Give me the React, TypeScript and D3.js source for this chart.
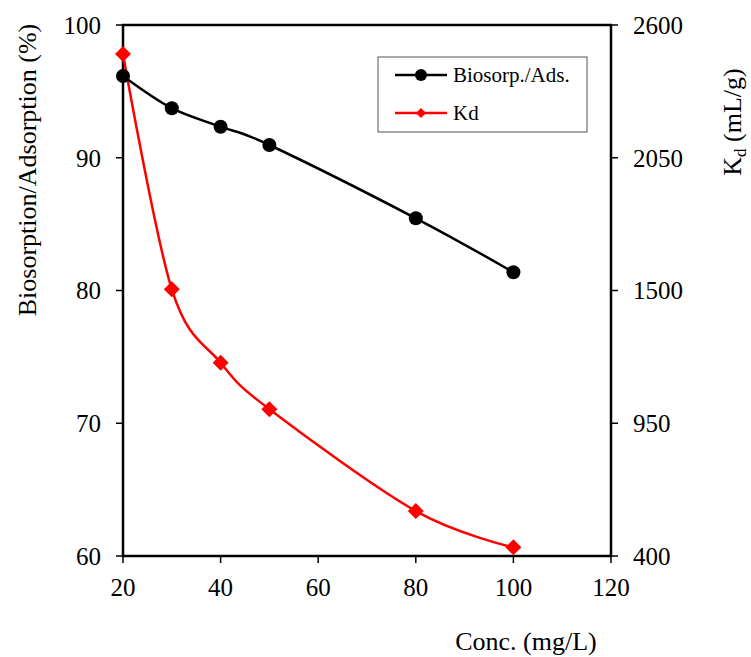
import React from "react";
import { scaleLinear, line, curveCardinal } from "d3";

const width = 751;
const height = 657;
const margin = { top: 25, right: 140, bottom: 101, left: 123 };
const innerWidth = width - margin.left - margin.right;
const innerHeight = height - margin.top - margin.bottom;

const conc = [20, 30, 40, 50, 80, 100];
const biosorp = [96.16, 93.73, 92.34, 90.96, 85.44, 81.37];
const kd = [2480, 1505, 1201, 1008, 586, 436];

const xTicks = [20, 40, 60, 80, 100, 120];
const yLeftTicks = [60, 70, 80, 90, 100];
const yRightTicks = [400, 950, 1500, 2050, 2600];

const font = "'Liberation Serif', 'Times New Roman', 'DejaVu Serif', serif";

// square rotated 45deg, like the Excel marker
const diamondPath = (r: number) => `M0,${-r}L${r},0L0,${r}L${-r},0Z`;

export default function App() {
  const x = scaleLinear().domain([20, 120]).range([0, innerWidth]);
  const yL = scaleLinear().domain([60, 100]).range([innerHeight, 0]);
  const yR = scaleLinear().domain([400, 2600]).range([innerHeight, 0]);

  const bioLine = line<number>()
    .x((d, i) => x(conc[i]))
    .y((d) => yL(d))
    .curve(curveCardinal.tension(0));
  const kdLine = line<number>()
    .x((d, i) => x(conc[i]))
    .y((d) => yR(d))
    .curve(curveCardinal.tension(0));

  return (
    <svg
      width={width}
      height={height}
      style={{ position: "absolute", left: 0, top: 0, background: "#fff", fontFamily: font }}
    >
      <g transform={`translate(${margin.left}, ${margin.top})`}>
        <rect x={0} y={0} width={innerWidth} height={innerHeight} fill="none" stroke="black" strokeWidth={2.5} />

        {yLeftTicks.map((t) => (
          <g key={`l${t}`} transform={`translate(0, ${yL(t)})`}>
            <line x1={-7} x2={0} stroke="black" strokeWidth={1.5} />
            <text x={-22} dy="0.35em" textAnchor="end" fontSize={25} style={{ fontFamily: font }}>
              {t}
            </text>
          </g>
        ))}

        {yRightTicks.map((t) => (
          <g key={`r${t}`} transform={`translate(${innerWidth}, ${yR(t)})`}>
            <line x1={0} x2={7} stroke="black" strokeWidth={1.5} />
            <text x={22} dy="0.35em" textAnchor="start" fontSize={25} style={{ fontFamily: font }}>
              {t}
            </text>
          </g>
        ))}

        {xTicks.map((t) => (
          <g key={`b${t}`} transform={`translate(${x(t)}, ${innerHeight})`}>
            <line y1={0} y2={7} stroke="black" strokeWidth={1.5} />
            <text y={40} textAnchor="middle" fontSize={25} style={{ fontFamily: font }}>
              {t}
            </text>
          </g>
        ))}

        <path d={kdLine(kd) || ""} fill="none" stroke="#ff0000" strokeWidth={2.5} />
        <path d={bioLine(biosorp) || ""} fill="none" stroke="black" strokeWidth={2.5} />
        {biosorp.map((d, i) => (
          <circle key={`c${i}`} cx={x(conc[i])} cy={yL(d)} r={7} fill="black" />
        ))}
        {kd.map((d, i) => (
          <path
            key={`d${i}`}
            d={diamondPath(8)}
            transform={`translate(${x(conc[i])}, ${yR(d)})`}
            fill="#ff0000"
          />
        ))}
      </g>

      <g>
        <rect x={378} y={57} width={209} height={75} fill="white" stroke="#555" strokeWidth={1} />
        <line x1={395} x2={447} y1={75} y2={75} stroke="black" strokeWidth={2.5} />
        <circle cx={421} cy={75} r={6} fill="black" />
        <text x={453} y={75} dy="0.35em" fontSize={21} style={{ fontFamily: font }}>
          Biosorp./Ads.
        </text>
        <line x1={395} x2={447} y1={113} y2={113} stroke="#ff0000" strokeWidth={2.5} />
        <path d={diamondPath(5)} transform="translate(421, 113)" fill="#ff0000" />
        <text x={453} y={113} dy="0.35em" fontSize={21} style={{ fontFamily: font }}>
          Kd
        </text>
      </g>

      <text
        transform="translate(36, 170) rotate(-90)"
        textAnchor="middle"
        fontSize={26}
        style={{ fontFamily: font }}
      >
        Biosorption/Adsorption (%)
      </text>
      <text
        transform="translate(741, 122) rotate(-90)"
        textAnchor="middle"
        fontSize={26}
        style={{ fontFamily: font }}
      >
        K<tspan fontSize={17} dy={5}>d</tspan>
        <tspan dy={-5}> (mL/g)</tspan>
      </text>
      <text x={526} y={650} textAnchor="middle" fontSize={26} style={{ fontFamily: font }}>
        Conc. (mg/L)
      </text>
    </svg>
  );
}
